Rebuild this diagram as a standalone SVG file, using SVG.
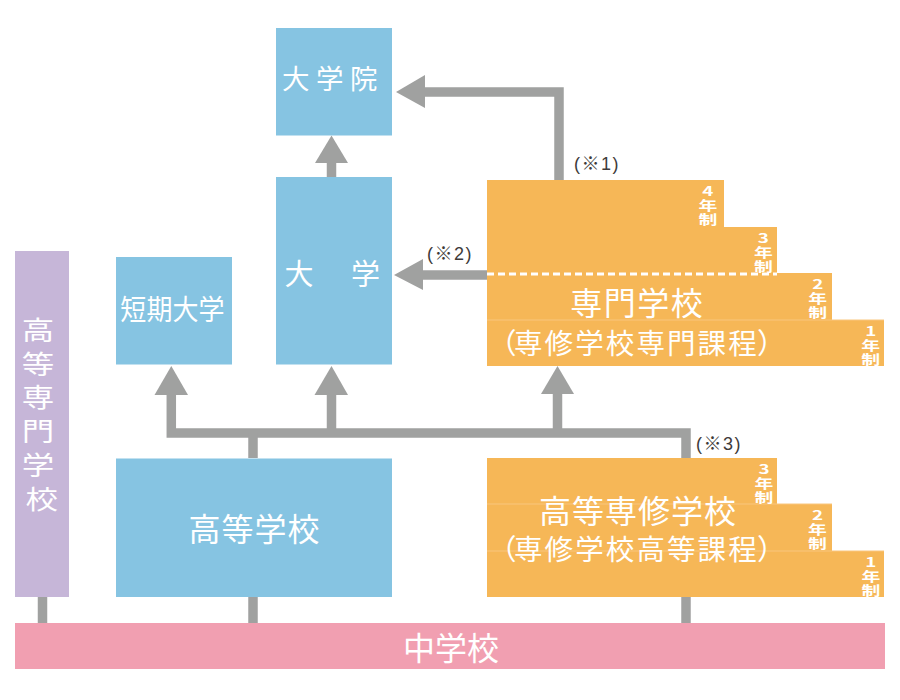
<svg xmlns="http://www.w3.org/2000/svg" width="900" height="700" viewBox="0 0 900 700">
<style>
.blue{fill:#86c4e2}
.orange{fill:#f6b757}
.purple{fill:#c6b6d8}
.pink{fill:#f19fb1}
.jp{font-family:"Noto Sans CJK JP","Noto Sans",sans-serif;fill:#fff}
.big{font-size:32px;text-anchor:middle}
.mid{font-size:28.5px}
.yr{font-family:"Noto Sans CJK JP","Noto Sans",sans-serif;font-size:13px;font-weight:bold;fill:#fff;writing-mode:vertical-rl;text-orientation:upright;letter-spacing:0.7px}
.note{font-family:"Liberation Sans","Noto Sans CJK JP",sans-serif;font-size:18px;fill:#3e3a39;letter-spacing:1.5px}
.line{fill:none;stroke:#a0a1a0;stroke-width:9.5;stroke-linejoin:miter}
.head{fill:#a0a1a0}
.seam{stroke:#f9c67e;stroke-width:1}
</style>

<g id="connectors">
  <path class="line" d="M559,180 V92 H425"/>
  <polygon class="head" points="396,92 425,75 425,108"/>
  <path class="line" d="M331.5,177 V162"/>
  <polygon class="head" points="331.5,135.5 315,163 348,163"/>
  <path class="line" d="M487,275 H422"/>
  <polygon class="head" points="394,275 423,259 423,290"/>
  <path class="line" d="M171.3,394 V433 H686 V458"/>
  <polygon class="head" points="171.3,366 154.5,395 188,395"/>
  <path class="line" d="M331.5,394 V433"/>
  <polygon class="head" points="331.5,366 314.5,395 348,395"/>
  <path class="line" d="M557.5,393 V433"/>
  <polygon class="head" points="557.5,366 541,394 574,394"/>
  <path class="line" d="M253,433 V458"/>
  <path class="line" d="M42.5,597 V623"/>
  <path class="line" d="M253,597 V623"/>
  <path class="line" d="M686,597 V623"/>
</g>

<g id="daigakuin">
  <rect class="blue" x="276" y="28" width="116" height="107.5"/>
  <text class="jp" x="329.7" y="88.5" font-size="27.5" text-anchor="middle" letter-spacing="6.5" dx="3.25">大学院</text>
</g>

<g id="daigaku">
  <rect class="blue" x="276" y="177" width="116" height="187.5"/>
  <text class="jp" x="299" y="285" font-size="29" text-anchor="middle">大</text>
  <text class="jp" x="365.5" y="285" font-size="29" text-anchor="middle">学</text>
</g>

<g id="tanki">
  <rect class="blue" x="116" y="257" width="116" height="107.5"/>
  <g transform="translate(172.4,0) scale(0.93,1)">
    <text class="jp" x="0" y="319.7" font-size="28" text-anchor="middle">短期大学</text>
  </g>
</g>

<g id="koutou">
  <rect class="blue" x="116" y="458.5" width="276" height="138.5"/>
  <text class="jp big" x="254" y="540.5" letter-spacing="1" dx="0.5">高等学校</text>
</g>

<g id="kousen">
  <rect class="purple" x="15" y="251" width="54" height="346"/>
  <g transform="translate(41.7,0) scale(1.25,1)">
    <text class="jp" font-size="26" text-anchor="middle">
      <tspan x="0" y="340.5">高</tspan>
      <tspan x="0" y="374">等</tspan>
      <tspan x="0" y="407.5">専</tspan>
      <tspan x="0" y="441">門</tspan>
      <tspan x="0" y="475">学</tspan>
      <tspan x="0" y="509">校</tspan>
    </text>
  </g>
</g>

<g id="senmon">
  <polygon class="orange" points="487,180 724,180 724,227 777,227 777,273 832,273 832,320 884,320 884,366 487,366"/>
  <line class="seam" x1="487" y1="320" x2="884" y2="320"/>
  <line x1="487" y1="274" x2="777" y2="274" stroke="#fff" stroke-width="3" stroke-dasharray="7,4"/>
  <text class="jp big" x="636.5" y="314.5" letter-spacing="1.5" dx="0.75">専門学校</text>
  <text class="jp mid" y="354"><tspan x="488">（</tspan><tspan x="514" letter-spacing="2.1">専修学校専門課程</tspan><tspan x="757">）</tspan></text>
  <g transform="translate(707.8,185) scale(1.45,1)"><text class="yr" x="0" y="0">4年制</text></g>
  <g transform="translate(763.3,232) scale(1.45,1)"><text class="yr" x="0" y="0">3年制</text></g>
  <g transform="translate(817.7,278) scale(1.45,1)"><text class="yr" x="0" y="0">2年制</text></g>
  <g transform="translate(870.7,325) scale(1.45,1)"><text class="yr" x="0" y="0">1年制</text></g>
</g>

<g id="kousen-shu">
  <polygon class="orange" points="487,458 777,458 777,504 832,504 832,551 884,551 884,597 487,597"/>
  <line class="seam" x1="487" y1="504" x2="832" y2="504"/>
  <line class="seam" x1="487" y1="551" x2="884" y2="551"/>
  <text class="jp big" x="637.5" y="523" letter-spacing="1" dx="0.5">高等専修学校</text>
  <text class="jp mid" y="560"><tspan x="488">（</tspan><tspan x="514" letter-spacing="2.1">専修学校高等課程</tspan><tspan x="757">）</tspan></text>
  <g transform="translate(764,463) scale(1.45,1)"><text class="yr" x="0" y="0">3年制</text></g>
  <g transform="translate(817.5,509) scale(1.45,1)"><text class="yr" x="0" y="0">2年制</text></g>
  <g transform="translate(870.8,556) scale(1.45,1)"><text class="yr" x="0" y="0">1年制</text></g>
</g>

<g id="chugaku">
  <rect class="pink" x="15" y="623" width="870" height="46"/>
  <text class="jp big" x="451" y="659.5">中学校</text>
</g>

<g id="notes">
  <text class="note" x="574" y="170">(※1)</text>
  <text class="note" x="427" y="260">(※2)</text>
  <text class="note" x="696" y="450">(※3)</text>
</g>
</svg>
